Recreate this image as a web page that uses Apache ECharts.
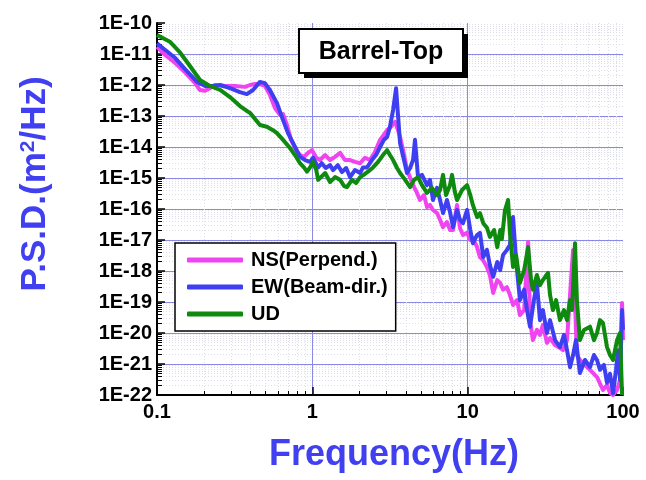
<!DOCTYPE html>
<html><head><meta charset="utf-8">
<script src="https://cdn.jsdelivr.net/npm/echarts@6/dist/echarts.min.js"></script>
<style>html,body{margin:0;padding:0;background:#fff}#c{width:646px;height:480px}</style>
</head><body><div id="c"></div>
<script>
// ---------- data (frequency in Hz, PSD in m^2/Hz) ----------
const nsFreq = [0.1,0.113,0.131,0.151,0.176,0.189,0.204,0.219,0.236,0.274,0.318,0.369,0.397,0.428,0.46,0.495,0.533,0.575,0.62,0.648,0.687,0.729,0.786,0.833,0.883,0.938,0.995,1.06,1.12,1.21,1.3,1.4,1.51,1.62,1.75,1.88,2.03,2.18,2.35,2.53,2.73,2.89,3.03,3.21,3.41,3.56,3.67,3.84,4.07,4.32,4.52,4.72,4.93,5.24,5.47,5.72,5.98,6.35,6.64,6.94,7.36,7.7,8.05,8.54,8.93,9.33,9.91,10.4,10.8,11.5,12.0,12.6,13.3,13.9,14.6,15.5,16.2,16.9,17.9,18.7,19.6,20.8,21.7,23.1,24.5,25.2,26.3,27.9,29.2,30.5,32.4,33.9,36.5,39.3,41.1,43.6,47.7,50.5,52.8,56.9,61.3,68.0,74.3,78.9,82.5,86.3,91.6,95.7,98.6,100];
const nsPsd = [1.7e-11,9.3e-12,5.1e-12,2.6e-12,1.15e-12,6.9e-13,6.5e-13,7.9e-13,1.0e-12,9.3e-13,9.3e-13,8.7e-13,1.0e-12,1.07e-12,1.07e-12,9.3e-13,4.8e-13,1.8e-13,1.07e-13,1.15e-13,5.1e-14,1.7e-14,7.9e-15,5.5e-15,4.8e-15,6.5e-15,7.9e-15,4.5e-15,3.8e-15,5.5e-15,3.8e-15,4.8e-15,6.5e-15,3.8e-15,3.8e-15,3.3e-15,3.0e-15,4.5e-15,3.8e-15,6.9e-15,1.7e-14,2.5e-14,3.5e-14,4.5e-14,6.5e-14,3.5e-14,2.1e-14,7.9e-15,1.8e-15,8.7e-16,5.1e-16,3.3e-16,1.95e-16,2.8e-16,1.15e-16,1.35e-16,9.3e-17,7.4e-17,4.5e-17,2.6e-17,3.8e-17,2.1e-17,2.1e-17,1.35e-16,2.4e-17,1.45e-17,1.7e-17,1.0e-17,1.15e-17,5.9e-18,2.8e-18,2.2e-18,1.35e-18,7.4e-19,1.95e-19,5.1e-19,4.1e-19,2.5e-19,3.0e-19,1.7e-19,8.0e-20,1.15e-19,3.8e-20,5.5e-20,8.7e-18,2.6e-20,5.9e-21,1.26e-20,8.7e-21,1.8e-20,4.8e-21,6.9e-21,4.1e-21,3.3e-21,2.8e-21,5.9e-21,4.8e-18,1.95e-21,1.35e-21,9.3e-22,6.5e-22,3.8e-22,1.45e-22,2.1e-22,1.15e-22,1.0e-22,1.45e-22,3.1e-22,9.3e-20,5.9e-21];

const ewFreq = [0.1,0.113,0.131,0.151,0.181,0.204,0.229,0.255,0.295,0.342,0.379,0.415,0.46,0.495,0.533,0.592,0.648,0.697,0.751,0.833,0.898,0.967,1.01,1.09,1.15,1.22,1.3,1.36,1.46,1.55,1.65,1.75,1.88,2.03,2.12,2.25,2.42,2.57,2.73,2.89,3.03,3.16,3.31,3.46,3.56,3.67,3.89,4.07,4.26,4.45,4.58,4.79,5.08,5.47,5.72,5.98,6.35,6.64,6.94,7.36,7.7,8.05,8.54,8.93,9.33,9.91,10.4,10.8,11.5,12.0,12.6,13.3,13.9,14.6,15.5,16.2,16.9,17.9,18.7,19.6,20.5,21.7,23.1,24.1,25.2,26.7,27.9,29.2,30.5,32.4,33.9,36.5,39.3,41.7,43.6,45.6,47.7,49.8,52.8,56.9,61.3,65.0,68.0,71.1,75.4,78.9,82.5,86.3,90.2,92.9,95.7,98.6,100];
const ewPsd = [2.2e-11,1.35e-11,7.4e-12,3.3e-12,1.26e-12,9.3e-13,9.3e-13,1.0e-12,7.9e-13,5.9e-13,5.1e-13,6.9e-13,1.26e-12,1.15e-12,6.9e-13,2.6e-13,7.4e-14,2.8e-14,1.35e-14,4.8e-15,3.8e-15,3.3e-15,4.5e-15,2.2e-15,3.0e-15,2.1e-15,2.6e-15,1.8e-15,2.6e-15,1.55e-15,2.1e-15,1.07e-15,1.8e-15,1.45e-15,2.2e-15,2.2e-15,3.8e-15,5.5e-15,1.0e-14,1.7e-14,2.1e-14,4.5e-14,1.55e-13,7.9e-13,1.07e-13,1.35e-14,3.8e-15,1.45e-15,2.1e-15,3.8e-15,1.7e-14,1.07e-15,1.26e-15,5.9e-16,8.7e-16,1.95e-16,4.8e-16,1.95e-16,7.4e-17,1.95e-16,7.9e-17,2.6e-17,9.3e-17,4.5e-17,3.5e-17,9.3e-17,2.1e-17,7.9e-18,1.45e-17,1.7e-17,2.8e-18,4.8e-18,1.55e-18,6.5e-19,1.95e-18,1.07e-18,3.3e-18,4.8e-18,6.9e-18,5.5e-17,2.2e-18,1.15e-19,2.5e-19,5.5e-20,1.6e-20,1.15e-19,4.1e-19,2.6e-20,5.5e-20,1.0e-20,2.6e-20,5.9e-21,3.5e-21,8.7e-21,2.8e-21,7.9e-22,1.95e-21,5.9e-21,5.1e-22,1.35e-21,7.9e-22,1.95e-21,1.35e-21,6.5e-22,9.3e-22,2.5e-22,4.8e-22,1.15e-22,6.5e-22,2.8e-21,3.1e-22,5.5e-20,1.26e-20];

const udFreq = [0.1,0.121,0.141,0.163,0.189,0.219,0.255,0.295,0.342,0.379,0.397,0.46,0.51,0.558,0.592,0.648,0.718,0.773,0.833,0.883,0.924,0.967,1.01,1.06,1.09,1.12,1.21,1.3,1.4,1.51,1.6,1.67,1.8,1.91,2.03,2.18,2.35,2.46,2.65,2.85,3.03,3.16,3.31,3.51,3.67,3.96,4.26,4.52,4.79,5.08,5.47,5.89,6.35,6.64,6.94,7.26,7.7,7.93,8.28,8.54,9.2,9.91,10.4,10.8,11.5,12.0,12.6,13.3,13.9,14.8,15.5,16.2,16.6,17.4,18.2,18.7,19.6,20.5,21.7,23.1,24.5,25.6,26.3,27.9,29.2,30.5,32.9,33.9,35.4,37.1,39.3,41.7,43.6,45.6,47.0,49.1,50.5,52.8,56.1,61.3,65.0,68.0,71.1,74.3,78.9,82.5,86.3,91.6,95.7,98.6];
const udPsd = [4.1e-11,2.5e-11,1.1e-11,4.1e-12,1.45e-12,9.3e-13,6.9e-13,4.1e-13,2.1e-13,1.45e-13,1.26e-13,5.1e-14,4.5e-14,3.5e-14,2.8e-14,1.7e-14,9.3e-15,5.5e-15,3.0e-15,2.2e-15,1.6e-15,2.2e-15,3.3e-15,1.8e-15,8.7e-16,1.0e-15,1.45e-15,7.4e-16,1.07e-15,8.7e-16,5.5e-16,5.1e-16,8.7e-16,6.9e-16,1.07e-15,1.35e-15,1.8e-15,2.2e-15,3.3e-15,5.5e-15,7.9e-15,5.5e-15,3.8e-15,2.1e-15,1.45e-15,8.7e-16,5.1e-16,8.7e-16,1.07e-15,5.9e-16,3.3e-16,4.8e-16,2.8e-16,4.1e-16,1.26e-15,2.8e-16,5.9e-16,1.26e-15,3.5e-16,1.95e-16,4.1e-16,5.9e-16,2.8e-16,1.35e-16,5.5e-17,7.4e-17,3.5e-17,2.5e-17,1.26e-17,2.1e-17,5.9e-18,2.1e-17,1.07e-17,9.3e-17,1.95e-16,1.7e-17,1.35e-18,3.3e-18,4.1e-19,1.07e-18,5.9e-18,5.1e-19,2.5e-19,7.4e-19,3.5e-19,5.1e-19,8.7e-19,1.7e-19,5.5e-20,1.15e-19,2.6e-20,5.5e-20,2.6e-20,1.15e-19,5.5e-20,7.9e-18,1.15e-19,5.9e-21,1.26e-20,1.6e-20,5.9e-21,1.0e-20,2.6e-20,2.1e-20,3.5e-21,1.95e-21,1.35e-21,5.9e-21,1.0e-20,1.0e-22];

const seriesNames = ['NS(Perpend.)', 'EW(Beam-dir.)', 'UD'];
const xTickLabels = ['0.1', '1', '10', '100'];
const yTickLabels = ['1E-22','1E-21','1E-20','1E-19','1E-18','1E-17','1E-16','1E-15','1E-14','1E-13','1E-12','1E-11','1E-10'];

// ---------- chart ----------
const FONT = "'Liberation Sans', Arial, Helvetica, sans-serif";
const colors = ['#f044f0', '#3f3ff2', '#0e8a0e'];

function toLog(freq, psd) {
  return freq.map((f, i) => [Math.log10(f), Math.log10(psd[i])]);
}
const xMinor = [], yMinor = [];
for (let d = -1; d <= 1; d++) for (let k = 2; k <= 9; k++) xMinor.push(d + Math.log10(k));
for (let d = -22; d <= -11; d++) for (let k = 2; k <= 9; k++) yMinor.push(d + Math.log10(k));

const chart = echarts.init(document.getElementById('c'), null, { renderer: 'canvas' });
const option = {
  animation: false,
  backgroundColor: '#fff',
  textStyle: { fontFamily: FONT },
  grid: { left: 157, right: 23, top: 23, bottom: 85, containLabel: false },
  xAxis: [
    {
      type: 'value', min: -1, max: 2, position: 'bottom',
      axisLine: { show: false, onZero: false },
      axisLabel: { show: false },
      axisTick: { show: true, inside: true, length: 4, customValues: xMinor, lineStyle: { color: '#000', width: 1 } },
      splitLine: { show: true, lineStyle: { color: '#dedeea', width: 1, type: [1, 2] } }
    },
    {
      type: 'value', min: -1, max: 2, interval: 1, position: 'bottom',
      axisLine: { show: true, onZero: false, lineStyle: { color: '#000', width: 2 } },
      axisTick: { show: true, inside: true, length: 8, lineStyle: { color: '#000', width: 1.5 } },
      axisLabel: { formatter: v => xTickLabels[Math.round(v) + 1], color: '#000', fontSize: 20, fontWeight: 'bold', fontFamily: FONT, margin: 7 },
      splitLine: { show: true, showMinLine: false, showMaxLine: false, lineStyle: { color: '#8a8ae6', width: 1 } }
    }
  ],
  yAxis: [
    {
      type: 'value', min: -22, max: -10, position: 'left',
      axisLine: { show: false, onZero: false },
      axisLabel: { show: false },
      axisTick: { show: true, inside: true, length: 5, customValues: yMinor, lineStyle: { color: '#000', width: 1 } },
      splitLine: { show: true, lineStyle: { color: '#dedeea', width: 1, type: [1, 2] } }
    },
    {
      type: 'value', min: -22, max: -10, interval: 1, position: 'left',
      axisLine: { show: true, onZero: false, lineStyle: { color: '#000', width: 2 } },
      axisTick: { show: true, inside: true, length: 8, lineStyle: { color: '#000', width: 1.5 } },
      axisLabel: { formatter: v => yTickLabels[Math.round(v) + 22], color: '#000', fontSize: 20, fontWeight: 'bold', fontFamily: FONT, margin: 5 },
      splitLine: { show: true, showMinLine: false, showMaxLine: false, lineStyle: { color: '#8a8ae6', width: 1 } }
    }
  ],
  legend: {
    data: seriesNames,
    orient: 'vertical',
    left: 175, top: 243,
    padding: [7, 8, 7, 12],
    icon: 'roundRect',
    itemWidth: 56, itemHeight: 5, itemGap: 7,
    backgroundColor: '#fff',
    borderColor: '#000', borderWidth: 1.5, borderRadius: 0,
    textStyle: { fontSize: 20, fontWeight: 'bold', color: '#000', fontFamily: FONT, padding: [0, 0, 0, 3] }
  },
  series: [
    { name: seriesNames[0], data: toLog(nsFreq, nsPsd), color: colors[0] },
    { name: seriesNames[1], data: toLog(ewFreq, ewPsd), color: colors[1] },
    { name: seriesNames[2], data: toLog(udFreq, udPsd), color: colors[2] }
  ].map((s, i) => Object.assign({
    type: 'line', xAxisIndex: 1, yAxisIndex: 1, symbol: 'none', showSymbol: false,
    lineStyle: { width: 4, color: s.color, join: 'round' }, itemStyle: { color: s.color },
    z: 2 + i, clip: true
  }, s)),
  graphic: [
    { type: 'rect', z: 100, shape: { x: 304, y: 34, width: 164, height: 44 }, style: { fill: '#000' } },
    { type: 'rect', z: 101, shape: { x: 299, y: 29, width: 164, height: 44 }, style: { fill: '#fff', stroke: '#000', lineWidth: 2 } },
    { type: 'text', z: 102, x: 381, y: 52, style: { text: 'Barrel-Top', font: 'bold 25px ' + FONT, fill: '#000', align: 'center', verticalAlign: 'middle', textAlign: 'center', textVerticalAlign: 'middle' } },
    { type: 'text', z: 102, x: 394, y: 455, style: { text: 'Frequency(Hz)', font: 'bold 36px ' + FONT, fill: '#4040f0', align: 'center', verticalAlign: 'middle', textAlign: 'center', textVerticalAlign: 'middle' } },
    { type: 'text', z: 102, x: 35, y: 184, rotation: Math.PI / 2,
      style: { text: '{a|P.S.D.(m}{s|2}{a|/Hz)}', align: 'center', verticalAlign: 'middle', textAlign: 'center', textVerticalAlign: 'middle',
        rich: { a: { font: 'bold 35px ' + FONT, fill: '#4040f0', color: '#4040f0', verticalAlign: 'bottom' }, s: { font: 'bold 21px ' + FONT, fill: '#4040f0', color: '#4040f0', verticalAlign: 'top' } } } }
  ]
};
chart.setOption(option);
</script>
</body></html>
